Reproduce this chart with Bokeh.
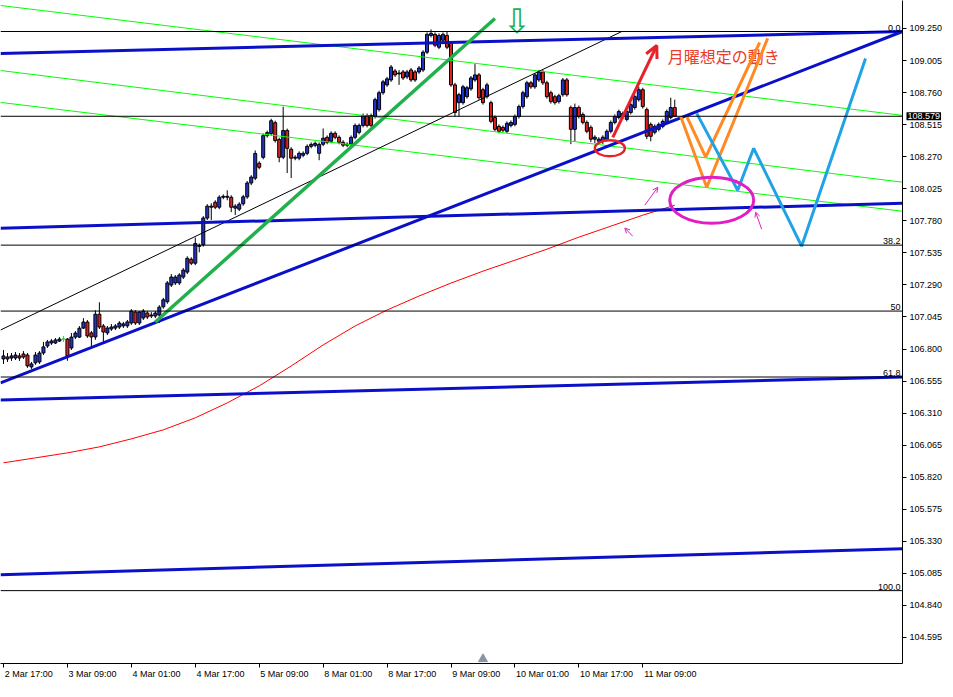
from bokeh.plotting import figure
from bokeh.models import (Range1d, FixedTicker, PrintfTickFormatter, Label, Arrow,
                          OpenHead, Span, LinearAxis)
from bokeh.core.properties import value
from bokeh.embed import file_html
from bokeh.resources import INLINE

# ---------------- data (USDJPY H1, bar index 0 = 2 Mar 17:00) ----------------
opens = [106.724, 106.739, 106.731, 106.731, 106.747, 106.762, 106.754, 106.663, 106.694, 106.701,
         106.770, 106.823, 106.846, 106.846, 106.861, 106.876, 106.876, 106.808, 106.891, 106.891,
         106.960, 107.006, 106.923, 106.892, 107.066, 106.976, 106.923, 106.953, 106.960, 106.968,
         106.977, 106.977, 106.999, 107.082, 106.999, 107.037, 107.075, 107.052, 107.052, 107.060,
         107.123, 107.161, 107.289, 107.305, 107.305, 107.350, 107.388, 107.486, 107.456, 107.584,
         107.597, 107.801, 107.884, 107.922, 107.884, 107.960, 107.960, 107.960, 107.877, 107.869,
         107.910, 107.963, 108.069, 108.106, 108.220, 108.265, 108.431, 108.447, 108.530, 108.401,
         108.266, 108.470, 108.327, 108.259, 108.259, 108.281, 108.296, 108.349, 108.357, 108.296,
         108.365, 108.418, 108.388, 108.449, 108.418, 108.380, 108.358, 108.365, 108.418, 108.456,
         108.509, 108.585, 108.585, 108.577, 108.630, 108.759, 108.819, 108.857, 108.925, 108.903,
         108.918, 108.880, 108.933, 108.918, 108.918, 108.933, 109.069, 109.197, 109.205, 109.107,
         109.160, 109.197, 109.137, 108.819, 108.683, 108.683, 108.729, 108.789, 108.857, 108.895,
         108.782, 108.729, 108.683, 108.570, 108.502, 108.494, 108.464, 108.509, 108.517, 108.577,
         108.653, 108.729, 108.835, 108.804, 108.857, 108.918, 108.835, 108.759, 108.729, 108.691,
         108.744, 108.857, 108.646, 108.479, 108.646, 108.593, 108.532, 108.494, 108.404, 108.388,
         108.388, 108.404, 108.464, 108.532, 108.570, 108.585, 108.555, 108.608, 108.646, 108.706,
         108.782, 108.630, 108.517, 108.457, 108.479, 108.502, 108.532, 108.570, 108.646]
highs = [106.792, 106.769, 106.769, 106.777, 106.769, 106.784, 106.769, 106.701, 106.777, 106.784,
         106.854, 106.869, 106.876, 106.884, 106.891, 106.899, 106.884, 106.922, 106.937, 106.975,
         107.036, 107.021, 106.938, 107.096, 107.157, 106.991, 106.976, 106.991, 106.991, 107.013,
         107.007, 107.022, 107.105, 107.097, 107.090, 107.105, 107.090, 107.082, 107.090, 107.135,
         107.191, 107.320, 107.373, 107.365, 107.380, 107.418, 107.509, 107.501, 107.652, 107.607,
         107.816, 107.907, 107.914, 107.937, 107.975, 107.982, 108.013, 107.975, 107.907, 107.922,
         107.978, 108.084, 108.129, 108.318, 108.235, 108.447, 108.469, 108.560, 108.545, 108.416,
         108.652, 108.485, 108.342, 108.281, 108.311, 108.311, 108.364, 108.379, 108.387, 108.379,
         108.486, 108.433, 108.464, 108.464, 108.433, 108.396, 108.380, 108.433, 108.524, 108.524,
         108.600, 108.600, 108.600, 108.721, 108.774, 108.857, 108.880, 108.971, 108.940, 108.933,
         108.933, 108.933, 108.948, 108.933, 108.963, 109.084, 109.220, 109.243, 109.220, 109.213,
         109.220, 109.228, 109.152, 108.835, 108.759, 108.819, 108.812, 108.887, 108.978, 108.910,
         108.797, 108.835, 108.698, 108.585, 108.517, 108.509, 108.540, 108.547, 108.593, 108.668,
         108.774, 108.850, 108.850, 108.910, 108.933, 108.933, 108.850, 108.774, 108.744, 108.751,
         108.872, 108.872, 108.661, 108.676, 108.661, 108.608, 108.547, 108.509, 108.434, 108.419,
         108.434, 108.479, 108.547, 108.593, 108.630, 108.615, 108.630, 108.683, 108.744, 108.804,
         108.797, 108.646, 108.532, 108.517, 108.532, 108.555, 108.630, 108.721, 108.706]
lows = [106.686, 106.701, 106.709, 106.716, 106.709, 106.724, 106.656, 106.648, 106.679, 106.686,
        106.755, 106.808, 106.831, 106.838, 106.854, 106.854, 106.710, 106.793, 106.876, 106.884,
        106.953, 106.885, 106.817, 106.870, 106.953, 106.847, 106.907, 106.938, 106.945, 106.953,
        106.961, 106.961, 106.984, 106.984, 106.984, 107.022, 107.029, 107.037, 107.037, 106.999,
        107.108, 107.146, 107.274, 107.289, 107.289, 107.335, 107.373, 107.441, 107.441, 107.539,
        107.582, 107.786, 107.786, 107.869, 107.869, 107.945, 107.937, 107.846, 107.824, 107.854,
        107.895, 107.948, 108.053, 108.091, 108.174, 108.250, 108.416, 108.431, 108.378, 108.227,
        108.251, 108.145, 108.107, 108.243, 108.243, 108.266, 108.281, 108.334, 108.342, 108.243,
        108.350, 108.365, 108.373, 108.403, 108.365, 108.343, 108.343, 108.350, 108.403, 108.441,
        108.494, 108.494, 108.494, 108.562, 108.615, 108.744, 108.804, 108.842, 108.880, 108.819,
        108.857, 108.865, 108.842, 108.842, 108.903, 108.918, 109.054, 109.182, 109.107, 109.092,
        109.145, 109.092, 108.804, 108.577, 108.577, 108.668, 108.714, 108.774, 108.842, 108.706,
        108.668, 108.714, 108.525, 108.464, 108.449, 108.457, 108.449, 108.494, 108.502, 108.562,
        108.638, 108.714, 108.789, 108.789, 108.842, 108.819, 108.714, 108.676, 108.668, 108.676,
        108.729, 108.729, 108.366, 108.388, 108.562, 108.517, 108.449, 108.381, 108.373, 108.366,
        108.366, 108.388, 108.449, 108.517, 108.555, 108.555, 108.540, 108.593, 108.630, 108.691,
        108.638, 108.404, 108.388, 108.441, 108.464, 108.487, 108.517, 108.555, 108.577]
closes = [106.747, 106.724, 106.747, 106.754, 106.731, 106.739, 106.671, 106.686, 106.754, 106.769,
          106.816, 106.854, 106.861, 106.869, 106.876, 106.876, 106.748, 106.891, 106.922, 106.959,
          107.006, 106.900, 106.892, 107.066, 106.968, 106.930, 106.960, 106.968, 106.976, 106.998,
          106.992, 107.007, 107.090, 106.999, 107.082, 107.090, 107.045, 107.060, 107.075, 107.120,
          107.176, 107.305, 107.350, 107.350, 107.365, 107.403, 107.493, 107.456, 107.607, 107.592,
          107.801, 107.892, 107.892, 107.884, 107.960, 107.967, 107.967, 107.884, 107.892, 107.907,
          107.963, 108.069, 108.114, 108.295, 108.189, 108.431, 108.454, 108.545, 108.394, 108.265,
          108.470, 108.334, 108.259, 108.266, 108.296, 108.296, 108.349, 108.364, 108.372, 108.364,
          108.411, 108.380, 108.449, 108.418, 108.380, 108.358, 108.365, 108.418, 108.509, 108.509,
          108.585, 108.509, 108.509, 108.706, 108.759, 108.842, 108.865, 108.955, 108.895, 108.910,
          108.872, 108.918, 108.857, 108.857, 108.948, 109.069, 109.205, 109.213, 109.122, 109.197,
          109.205, 109.107, 108.819, 108.608, 108.744, 108.804, 108.797, 108.872, 108.895, 108.721,
          108.683, 108.819, 108.540, 108.479, 108.464, 108.472, 108.525, 108.532, 108.577, 108.653,
          108.759, 108.835, 108.804, 108.895, 108.918, 108.835, 108.729, 108.691, 108.683, 108.736,
          108.857, 108.744, 108.479, 108.646, 108.577, 108.532, 108.464, 108.404, 108.419, 108.404,
          108.419, 108.464, 108.532, 108.577, 108.615, 108.600, 108.615, 108.668, 108.729, 108.782,
          108.653, 108.426, 108.426, 108.502, 108.517, 108.540, 108.615, 108.646, 108.579]

# moving average (red) sampled every 8 bars
ma_bars = [0, 8, 16, 24, 32, 40, 48, 56, 64, 72, 80, 88, 96, 104, 112, 120, 128, 136, 144, 152, 160, 168]
ma_vals = [105.930, 105.968, 106.006, 106.052, 106.113, 106.182, 106.274, 106.388, 106.518, 106.670,
           106.831, 106.976, 107.098, 107.205, 107.304, 107.395, 107.479, 107.563, 107.655, 107.739,
           107.823, 107.899]

x_tick_bars = [0, 16, 32, 48, 64, 80, 96, 112, 128, 144, 160]
x_tick_labels = ["2 Mar 17:00", "3 Mar 09:00", "4 Mar 01:00", "4 Mar 17:00", "5 Mar 09:00",
                 "8 Mar 01:00", "8 Mar 17:00", "9 Mar 09:00", "10 Mar 01:00", "10 Mar 17:00",
                 "11 Mar 09:00"]
y_ticks = [109.250, 109.005, 108.760, 108.515, 108.270, 108.025, 107.780, 107.535, 107.290,
           107.045, 106.800, 106.555, 106.310, 106.065, 105.820, 105.575, 105.330, 105.085,
           104.840, 104.595]

fib_levels = [109.227, 107.594, 107.090, 106.586, 104.953]
fib_labels = ["0.0", "38.2", "50", "61.8", "100.0"]
last_price = 108.579

# drawn objects (bar index, price)
blue_x0 = [-0.75, -0.75, -0.75, -0.75, -0.75]
blue_y0 = [109.059, 106.541, 107.724, 106.411, 105.075]
blue_x1 = [225.0, 225.0, 225.0, 225.0, 225.0]
blue_y1 = [109.227, 109.227, 107.914, 106.586, 105.274]

lime_x0 = [-0.75, -0.75, -0.75]
lime_y0 = [109.426, 108.929, 108.685]
lime_x1 = [225.0, 225.0, 225.0]
lime_y1 = [108.586, 108.075, 107.853]

black_line_x = [-0.75, 154.75]
black_line_y = [106.945, 109.227]

green_line_x = [38.0, 123.0]
green_line_y = [107.006, 109.326]

orange1_x = [169.5, 176.0, 191.25]
orange1_y = [108.578, 108.036, 109.174]
orange2_x = [171.0, 175.75, 189.25]
orange2_y = [108.578, 108.266, 109.143]

sky_x = [173.5, 183.75, 187.75, 199.75, 215.75]
sky_y = [108.601, 108.014, 108.334, 107.586, 109.021]

# ---------------- figure ----------------
XMIN, XMAX = -0.75, 225.0
YMIN, YMAX = 104.396, 109.464
AX_FONT = "Liberation Sans"

p = figure(width=945, height=689, output_backend="svg", toolbar_location=None,
           x_range=Range1d(XMIN, XMAX), y_range=Range1d(YMIN, YMAX),
           y_axis_location="right", min_border_left=0, min_border_top=0,
           min_border_right=42, min_border_bottom=25)
p.xgrid.visible = False
p.ygrid.visible = False
p.outline_line_color = None
p.background_fill_color = "white"
p.border_fill_color = "white"

# x axis 1: axis line + tick marks at the bar of each label
xa = p.xaxis[0]
xa.ticker = FixedTicker(ticks=x_tick_bars)
xa.axis_line_color = "black"
xa.major_tick_line_color = "black"
xa.major_tick_in = 0
xa.major_tick_out = 4
xa.minor_tick_line_color = None
xa.major_label_text_font_size = "1px"
xa.major_label_text_alpha = 0
xa.major_label_standoff = 0

# x axis 2: the date labels, written to the right of each tick mark
label_offsets = [6.3 if len(s) == 11 else 6.9 for s in x_tick_labels]
label_centres = [b + o for b, o in zip(x_tick_bars, label_offsets)]
xb = LinearAxis(ticker=FixedTicker(ticks=label_centres),
                major_label_overrides={float(c): s for c, s in zip(label_centres, x_tick_labels)})
xb.axis_line_color = None
xb.major_tick_line_color = None
xb.major_tick_in = 0
xb.major_tick_out = 0
xb.minor_tick_line_color = None
xb.major_label_standoff = 1
xb.major_label_text_font = AX_FONT
xb.major_label_text_font_size = "9px"
xb.major_label_text_line_height = 1.0
xb.major_label_text_color = "black"
p.add_layout(xb, "below")

ya = p.yaxis[0]
ya.ticker = FixedTicker(ticks=y_ticks)
ya.formatter = PrintfTickFormatter(format="%.3f")
ya.axis_line_color = "black"
ya.major_tick_line_color = "black"
ya.major_tick_in = 0
ya.major_tick_out = 4
ya.minor_tick_line_color = None
ya.major_label_standoff = 3
ya.major_label_text_font = AX_FONT
ya.major_label_text_font_size = "9px"
ya.major_label_text_color = "black"

# fib / price horizontal lines
for lvl, lab in zip(fib_levels, fib_labels):
    p.add_layout(Span(location=lvl, dimension="width", line_color="black", line_width=1))
    p.add_layout(Label(x=224.5, y=lvl, text=lab, text_align="right", text_baseline="bottom",
                       y_offset=1, text_font=AX_FONT, text_font_size="9px", text_color="black"))
p.add_layout(Span(location=last_price, dimension="width", line_color="black", line_width=1))

# candles
idx = list(range(len(closes)))
body_top = [max(o, c) for o, c in zip(opens, closes)]
body_bot = [min(o, c) for o, c in zip(opens, closes)]
fills = ["#2233cc" if c > o else ("#dd2020" if c < o else "#00ee00") for o, c in zip(opens, closes)]
edges = ["black" if c != o else "#00ee00" for o, c in zip(opens, closes)]
p.segment(x0=idx, y0=lows, x1=idx, y1=highs, line_color=edges, line_width=1)
p.vbar(x=idx, width=0.75, top=body_top, bottom=body_bot, fill_color=fills, line_color=edges,
       line_width=1)

# moving average
p.line(ma_bars, ma_vals, line_color="#ff0000", line_width=1)

# lime channel lines
p.segment(x0=lime_x0, y0=lime_y0, x1=lime_x1, y1=lime_y1, line_color="#00ff00", line_width=1)
# thin black channel line
p.line(black_line_x, black_line_y, line_color="black", line_width=1)
# blue trendlines
p.segment(x0=blue_x0, y0=blue_y0, x1=blue_x1, y1=blue_y1, line_color="#0a10c8", line_width=3)
# thick green trendline
p.line(green_line_x, green_line_y, line_color="#22b04c", line_width=3.5)

# green down arrow
p.text(x=[128.5], y=[109.311], text=["⇩"], text_font=value("DejaVu Sans"),
       text_font_size="34px", text_color="#22b04c", text_align="center", text_baseline="middle")

# red arrow, ellipse and text
p.add_layout(Arrow(end=OpenHead(size=12, line_color="#e8202a", line_width=3),
                   x_start=152.5, y_start=108.418, x_end=163.5, y_end=109.120,
                   line_color="#e8202a", line_width=3))
p.ellipse(x=[151.75], y=[108.334], width=30, height=16, width_units="screen",
          height_units="screen", fill_color=None, line_color="#e8202a", line_width=2.5)
p.text(x=[166.25], y=[109.036], text=["月曜想定の動き"], text_font=value("Noto Sans CJK JP"),
       text_font_size="16px", text_color="#ec3b2b", text_align="left", text_baseline="middle")

# scenario paths
p.line(orange1_x, orange1_y, line_color="#ff8a24", line_width=3)
p.line(orange2_x, orange2_y, line_color="#ff8a24", line_width=3)
p.line(sky_x, sky_y, line_color="#1fa2e6", line_width=3)

# magenta ellipse + small hand arrows
p.ellipse(x=[177.25], y=[107.937], width=84, height=46, width_units="screen",
          height_units="screen", fill_color=None, line_color="#e01ec4", line_width=3)
for xs, ys, xe, ye in [(160.5, 107.899, 163.75, 108.036),
                       (157.5, 107.662, 155.5, 107.724),
                       (189.75, 107.716, 188.25, 107.846)]:
    p.add_layout(Arrow(end=OpenHead(size=5, line_color="#e01ec4", line_width=1),
                       x_start=xs, y_start=ys, x_end=xe, y_end=ye,
                       line_color="#e01ec4", line_width=1))

# shift marker
p.scatter(x=[120], y=[104.43], marker="triangle", size=9, fill_color="#8795a5",
          line_color="#8795a5")

# current price box on the price axis (side panel so it is not clipped to the frame)
p.add_layout(Label(x=906, x_units="canvas", y=last_price, text="108.579", text_align="left",
                   text_baseline="middle", text_font=AX_FONT, text_font_size="9px",
                   text_line_height=1.0, text_color="white", background_fill_color="black",
                   padding=1), "below")

open("out.html", "w").write(file_html(p, INLINE))
